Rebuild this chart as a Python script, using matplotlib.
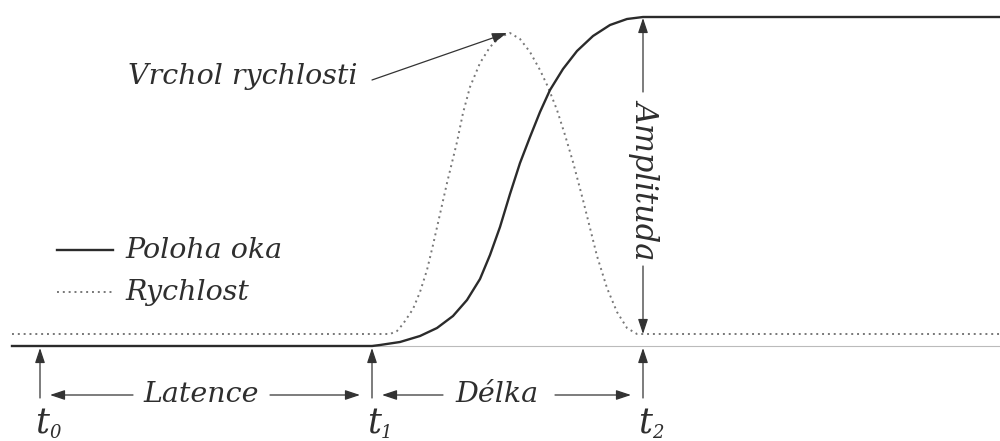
import matplotlib
matplotlib.use("Agg")
import matplotlib.pyplot as plt

# --- data (in pixel-like units, y grows downward) ---
base_pos = 346
base_vel = 334
top_pos = 17
x_left = 12
x_right = 1000
t0, t1, t2 = 40, 372, 643

pos_x = [x_left, 372, 380, 400, 420, 437, 453, 467, 480, 490, 500, 510, 520, 530,
         540, 550, 563, 577, 593, 610, 627, 643, x_right]
pos_y = [346, 346, 345, 342, 336, 328, 316, 300, 279, 255, 227, 194, 163, 137,
         112, 90, 69, 51, 36, 25, 19, 17, 17]

vel_x = [x_left, 390, 397, 403, 413, 420, 427, 433, 440, 447, 457, 463, 470, 480,
         490, 500, 510, 520, 530, 540, 548, 557, 565, 573, 583, 590, 597, 607,
         617, 627, 637, x_right]
vel_y = [334, 334, 331, 324, 309, 292, 270, 245, 214, 183, 142, 113, 87, 63,
         47, 37, 33, 39, 52, 70, 87, 110, 135, 162, 200, 228, 256, 288,
         312, 328, 334, 334]

labels = {"legend_pos": "Poloha oka", "legend_vel": "Rychlost",
          "peak": "Vrchol rychlosti", "amp": "Amplituda",
          "lat": "Latence", "dur": "Délka"}
tick_names = ["t", "t", "t"]
tick_subs = ["0", "1", "2"]

fig = plt.figure(figsize=(10, 4.41), dpi=100)
ax = fig.add_axes([0, 0, 1, 1])
ax.set_xlim(0, 1000)
ax.set_ylim(441, 0)
ax.axis('off')

font = dict(family='DejaVu Serif', style='italic', color='#2e2e2e')
fs = 20.5

# thin reference line
ax.plot([t1, x_right], [base_pos, base_pos], color='#bbbbbb', lw=0.8)
# curves
ax.plot(vel_x, vel_y, color='#777777', lw=1.4, ls=(0, (1, 2.0)))
ax.plot(pos_x, pos_y, color='#2b2b2b', lw=1.7)

arw = dict(arrowstyle='-|>,head_length=0.9,head_width=0.3', color='#333333', lw=0.9,
           shrinkA=0, shrinkB=0)

# vertical time markers
for t in (t0, t1, t2):
    ax.annotate('', xy=(t, base_pos + 2), xytext=(t, 398), arrowprops=arw)

# time labels
for t, nm, sb in zip((t0, t1, t2), tick_names, tick_subs):
    ax.text(t + 2, 424, nm, ha='center', va='center', fontsize=25, **font)
    ax.text(t + 9, 433, sb, ha='left', va='center', fontsize=13, **font)

# horizontal interval arrows
yh = 395
ax.annotate('', xy=(t0 + 10, yh), xytext=(133, yh), arrowprops=arw)
ax.annotate('', xy=(t1 - 12, yh), xytext=(270, yh), arrowprops=arw)
ax.text(201, yh, labels["lat"], ha='center', va='center', fontsize=fs, **font)
ax.annotate('', xy=(t1 + 10, yh), xytext=(443, yh), arrowprops=arw)
ax.annotate('', xy=(t2 - 12, yh), xytext=(555, yh), arrowprops=arw)
ax.text(497, yh, labels["dur"], ha='center', va='center', fontsize=fs, **font)

# amplitude double arrow
ax.annotate('', xy=(t2, top_pos + 1), xytext=(t2, 92), arrowprops=arw)
ax.annotate('', xy=(t2, base_vel), xytext=(t2, 266), arrowprops=arw)
ax.text(t2 + 3, 179, labels["amp"], ha='center', va='center', rotation=-90,
        fontsize=fs + 1.5, **font)

# peak annotation
ax.text(128, 77, labels["peak"], ha='left', va='center', fontsize=fs, **font)
ax.annotate('', xy=(507, 33), xytext=(372, 80), arrowprops=arw)

# legend
ax.plot([57, 113], [250, 250], color='#2b2b2b', lw=1.7)
ax.plot([57, 113], [292, 292], color='#777777', lw=1.4, ls=(0, (1, 2.0)))
ax.text(125, 250, labels["legend_pos"], ha='left', va='center', fontsize=fs, **font)
ax.text(125, 292, labels["legend_vel"], ha='left', va='center', fontsize=fs, **font)

fig.savefig('out.png', dpi=100)
